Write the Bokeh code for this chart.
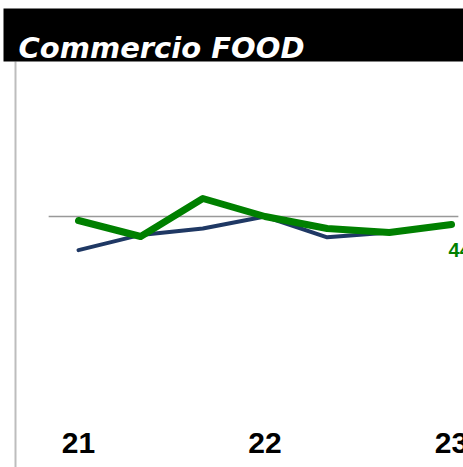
from bokeh.plotting import figure
from bokeh.models import BoxAnnotation, Label, ColumnDataSource
from bokeh.core.properties import value
from bokeh.embed import file_html
from bokeh.resources import INLINE

# ---- data ----
periods = [0, 1, 2, 3, 4, 5, 6]
green_vals = [-0.5, -2.5, 2.25, 0.0, -1.5, -2.0, -1.0]
navy_vals = [-4.2, -2.3, -1.5, 0.0, -2.6, -2.0, -0.9]
tick_pos = [0, 3, 6]
tick_labels = ["21", "22", "23"]
title_text = "Commercio FOOD"
green_label = "44,0"

W, H = 463, 467
X0_PX, DX_PX = 78.0, 62.17   # pixel position of period 0, pixel step
Y0_PX, DY_PX = 216.0, 8.0    # pixel position of value 0, pixels per unit

def dx(px):
    return (px - X0_PX) / DX_PX

def dy(py):
    return (Y0_PX - py) / DY_PX

p = figure(width=W, height=H, output_backend="svg", toolbar_location=None,
           x_range=(dx(0), dx(W)), y_range=(dy(H), dy(0)),
           min_border=0, outline_line_color=None)
p.axis.visible = False
p.grid.visible = False
p.background_fill_color = "white"

# left vertical rule
p.add_layout(BoxAnnotation(left=dx(14), right=dx(16), top=dy(61), fill_color="#bdbdbd",
                           fill_alpha=1.0, line_color=None))

# black title bar
p.add_layout(BoxAnnotation(left=dx(3), top=dy(8), bottom=dy(61), fill_color="black",
                           fill_alpha=1.0, line_color=None))
p.add_layout(Label(x=dx(18), y=dy(47), text=title_text, text_color="white",
                   text_font="DejaVu Sans", text_font_style="bold italic",
                   text_font_size="29px", text_baseline="alphabetic"))

# reference line at zero
p.segment(x0=[periods[0] - 0.48], y0=[0], x1=[periods[-1] + 0.11], y1=[0],
          line_color="#999999", line_width=1.5)

src = ColumnDataSource(dict(x=periods, g=green_vals, n=navy_vals))
p.line("x", "n", source=src, line_color="#1f3864", line_width=4, line_cap="round",
       line_join="round")
p.line("x", "g", source=src, line_color="#008000", line_width=7, line_cap="round",
       line_join="round")

# end label
p.text(x=[periods[-1]], y=[green_vals[-1]], text=[green_label], x_offset=-3, y_offset=18,
       text_color="#008000", text_font=value("Liberation Sans"), text_font_style="bold",
       text_font_size="20px", text_baseline="top", text_align="left")

# x labels
p.text(x=tick_pos, y=[dy(442)] * len(tick_pos), text=tick_labels, text_color="black",
       text_font=value("Liberation Sans"), text_font_style="bold",
       text_font_size="30px", text_baseline="alphabetic", text_align="center")

open("out.html", "w").write(file_html(p, INLINE))
